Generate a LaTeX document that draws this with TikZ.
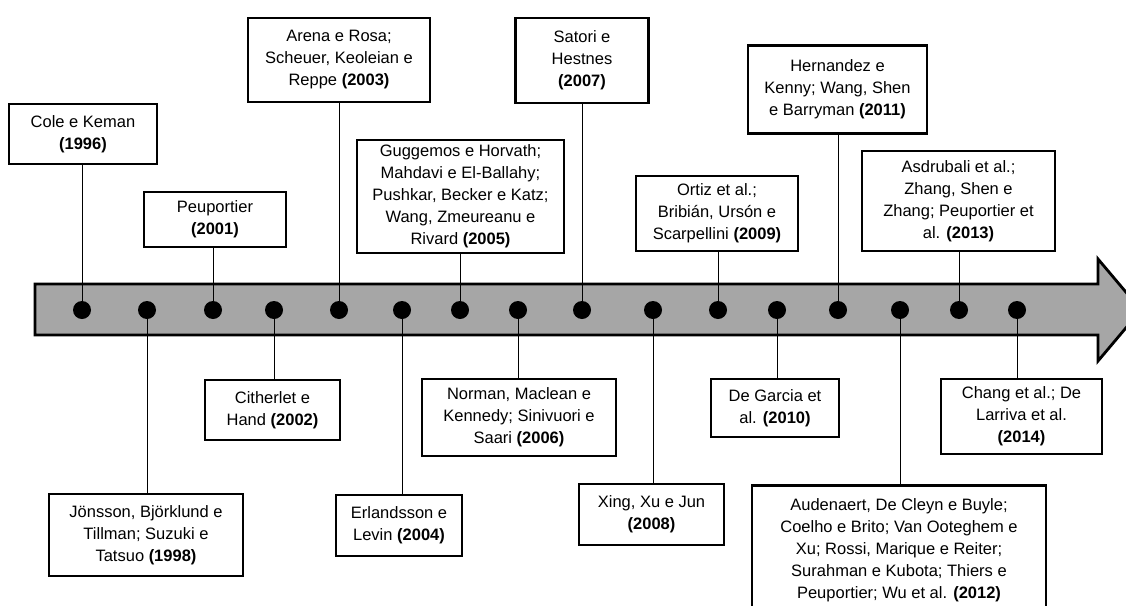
\documentclass[tikz,border=0pt]{standalone}
\usepackage{fontspec}
\setmainfont{Liberation Sans}
\usetikzlibrary{calc}
\definecolor{bargray}{RGB}{166,166,166}
\tikzset{
  refbox/.style={draw, line width=2.8pt, fill=white, align=center, inner sep=0pt,
    font=\fontsize{16.5}{22}\selectfont},
  yeardot/.style={circle, fill=black, inner sep=0pt, minimum size=18pt},
  link/.style={line width=0.9pt}
}

\begin{document}
\begin{tikzpicture}[x=1pt, y=-1pt]
            \useasboundingbox (0,0) rectangle (1126,605);
            \clip (0,0) rectangle (1126,605);

            % Timeline arrow
            \draw[line width=2.8pt, fill=bargray] (35,284) -- (1098,284) -- (1098,259) -- (1141,310)
                -- (1098,361) -- (1098,335) -- (35,335) -- cycle;

            % Years on the arrow
            \node[yeardot] (d1996) at (82,310) {};
            \node[yeardot] (d1998) at (147,310) {};
            \node[yeardot] (d2001) at (213,310) {};
            \node[yeardot] (d2002) at (274,310) {};
            \node[yeardot] (d2003) at (339,310) {};
            \node[yeardot] (d2004) at (402,310) {};
            \node[yeardot] (d2005) at (460,310) {};
            \node[yeardot] (d2006) at (518,310) {};
            \node[yeardot] (d2007) at (582,310) {};
            \node[yeardot] (d2008) at (653,310) {};
            \node[yeardot] (d2009) at (718,310) {};
            \node[yeardot] (d2010) at (777,310) {};
            \node[yeardot] (d2011) at (838,310) {};
            \node[yeardot] (d2012) at (900,310) {};
            \node[yeardot] (d2013) at (959,310) {};
            \node[yeardot] (d2014) at (1017,310) {};

            % Boxes above
            \node[refbox, minimum width=148pt, minimum height=60pt] (b1996) at (83,134)
                {Cole e Keman\\\textbf{(1996)}};
            \node[refbox, minimum width=142pt, minimum height=55pt] (b2001) at (215,219.5)
                {Peuportier\\\textbf{(2001)}};
            \node[refbox, minimum width=182pt, minimum height=84pt] (b2003) at (339,60)
                {Arena e Rosa;\\Scheuer, Keoleian e\\Reppe \textbf{(2003)}};
            \node[refbox, minimum width=207pt, minimum height=113pt] (b2005) at (460.5,196.5)
                {Guggemos e Horvath;\\Mahdavi e El-Ballahy;\\Pushkar, Becker e Katz;\\Wang, Zmeureanu e\\Rivard \textbf{(2005)}};
            \node[refbox, minimum width=133pt, minimum height=85pt] (b2007) at (582,60.5)
                {Satori e\\Hestnes\\\textbf{(2007)}};
            \node[refbox, minimum width=162pt, minimum height=75pt] (b2009) at (717,213.5)
                {Ortiz et al.;\\Bribián, Ursón e\\Scarpellini \textbf{(2009)}};
            \node[refbox, minimum width=179pt, minimum height=88pt] (b2011) at (837.5,89.5)
                {Hernandez e\\Kenny; Wang, Shen\\e Barryman \textbf{(2011)}};
            \node[refbox, minimum width=193pt, minimum height=100pt] (b2013) at (958.5,201)
                {Asdrubali et al.;\\Zhang, Shen e\\Zhang; Peuportier et\\al. \textbf{(2013)}};

            % Boxes below
            \node[refbox, minimum width=194pt, minimum height=82pt] (b1998) at (146,535)
                {Jönsson, Björklund e\\Tillman; Suzuki e\\Tatsuo \textbf{(1998)}};
            \node[refbox, minimum width=135pt, minimum height=60pt] (b2002) at (272.5,410)
                {Citherlet e\\Hand \textbf{(2002)}};
            \node[refbox, minimum width=126pt, minimum height=61pt] (b2004) at (399,525.5)
                {Erlandsson e\\Levin \textbf{(2004)}};
            \node[refbox, minimum width=194pt, minimum height=77pt] (b2006) at (519,417.5)
                {Norman, Maclean e\\Kennedy; Sinivuori e\\Saari \textbf{(2006)}};
            \node[refbox, minimum width=145pt, minimum height=61pt] (b2008) at (651.5,514.5)
                {Xing, Xu e Jun\\\textbf{(2008)}};
            \node[refbox, minimum width=128pt, minimum height=58pt] (b2010) at (775,408)
                {De Garcia et\\al. \textbf{(2010)}};
            \node[refbox, minimum width=294pt, minimum height=130pt, anchor=north] (b2012) at (899,484)
                {Audenaert, De Cleyn e Buyle;\\Coelho e Brito; Van Ooteghem e\\Xu; Rossi, Marique e Reiter;\\Surahman e Kubota; Thiers e\\Peuportier; Wu et al. \textbf{(2012)}};
            \node[refbox, minimum width=161pt, minimum height=75pt] (b2014) at (1021.5,416.5)
                {Chang et al.; De\\Larriva et al.\\\textbf{(2014)}};

            % Connectors
            \draw[link] (d1996.center) -- (d1996 |- b1996.south);
            \draw[link] (d2001.center) -- (d2001 |- b2001.south);
            \draw[link] (d2003.center) -- (d2003 |- b2003.south);
            \draw[link] (d2005.center) -- (d2005 |- b2005.south);
            \draw[link] (d2007.center) -- (d2007 |- b2007.south);
            \draw[link] (d2009.center) -- (d2009 |- b2009.south);
            \draw[link] (d2011.center) -- (d2011 |- b2011.south);
            \draw[link] (d2013.center) -- (d2013 |- b2013.south);
            \draw[link] (d1998.center) -- (d1998 |- b1998.north);
            \draw[link] (d2002.center) -- (d2002 |- b2002.north);
            \draw[link] (d2004.center) -- (d2004 |- b2004.north);
            \draw[link] (d2006.center) -- (d2006 |- b2006.north);
            \draw[link] (d2008.center) -- (d2008 |- b2008.north);
            \draw[link] (d2010.center) -- (d2010 |- b2010.north);
            \draw[link] (d2012.center) -- (d2012 |- b2012.north);
            \draw[link] (d2014.center) -- (d2014 |- b2014.north);

        \end{tikzpicture}
\end{document}
